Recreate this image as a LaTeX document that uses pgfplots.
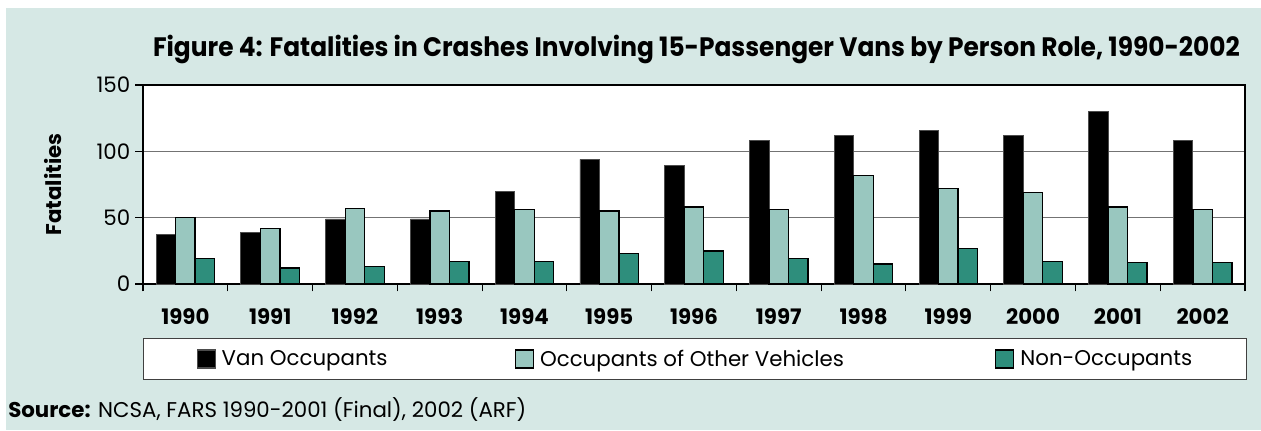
\documentclass[border=0pt]{standalone}
\usepackage{fontspec}
\setmainfont{Poppins}
\usepackage{graphicx}
\usepackage{pgfplots}
\pgfplotsset{compat=1.18}
\definecolor{bgc}{RGB}{214,232,229}
\definecolor{lightc}{RGB}{153,199,191}
\definecolor{tealc}{RGB}{46,142,124}
\begin{document}
\begin{tikzpicture}
\fill[white] (-107.25pt,-109.5pt) rectangle (838.5pt,213pt);
\fill[bgc] (-102.75pt,-109.5pt) rectangle (838.5pt,207pt);
\useasboundingbox (-107.25pt,-109.5pt) rectangle (838.5pt,213pt);
\begin{axis}[
  at={(0,0)}, anchor=south west,
  scale only axis, width=826.5pt, height=149.25pt,
  xmin=-0.5, xmax=12.5, ymin=0, ymax=150,
  ybar=0pt, bar width=0.23,
  axis background/.style={fill=white},
  xtick={0,...,12},
  xticklabels={1990,1991,1992,1993,1994,1995,1996,1997,1998,1999,2000,2001,2002},
  major x tick style={draw=none},
  minor xtick={-0.5,0.5,...,12.5},
  ytick={0,50,100,150},
  tick align=outside,
  xtick pos=bottom, ytick pos=left,
  major tick length=6pt, minor tick length=5.5pt,
  tick style={black, line width=0.8pt},
  ymajorgrids, grid style={black!55, line width=0.9pt},
  axis line style={line width=1.3pt},
  tick label style={font=\fontsize{16}{18}\selectfont},
  xticklabel style={font=\bfseries\fontsize{16}{18}\selectfont, yshift=-9pt},
  /pgf/number format/assume math mode=true,
  ylabel={Fatalities},
  ylabel style={font=\bfseries\fontsize{16}{18}\selectfont, at={(axis description cs:-0.0817,0.5)}, anchor=center},
  title={\resizebox{815pt}{\height}{Figure 4: Fatalities in Crashes Involving 15-Passenger Vans by Person Role, 1990-2002}},
  title style={font=\bfseries\fontsize{20}{24}\selectfont, at={(axis description cs:0.5022,1.1055)}, anchor=base},
  legend columns=3,
  legend style={at={(axis description cs:0,-0.2714)}, anchor=north west, draw=black!75, line width=0.9pt, fill=white, inner xsep=39.75pt, inner ysep=8pt, column sep=0pt, nodes={inner sep=0pt}, font=\fontsize{16}{18}\selectfont},
  legend image code/.code={\draw[#1, line width=1pt] (0pt,-6.75pt) rectangle (13.5pt,6.75pt); \path (18pt,0pt);},
]
\addplot[fill=black, draw=black!70, line width=0.7pt] coordinates {(0,37) (1,39) (2,49) (3,49) (4,70) (5,94) (6,89) (7,108) (8,112) (9,116) (10,112) (11,130) (12,108)};
\addplot[fill=lightc, draw=black, line width=1pt] coordinates {(0,50) (1,42) (2,57) (3,55) (4,56) (5,55) (6,58) (7,56) (8,82) (9,72) (10,69) (11,58) (12,56)};
\addplot[fill=tealc, draw=black, line width=1pt] coordinates {(0,19) (1,12) (2,13) (3,17) (4,17) (5,23) (6,25) (7,19) (8,15) (9,27) (10,17) (11,16) (12,16)};
\addlegendentry{\makebox[219.75pt][l]{Van Occupants}}
\addlegendentry{\makebox[341.25pt][l]{Occupants of Other Vehicles}}
\addlegendentry{\makebox[130pt][l]{Non-Occupants}}
\end{axis}
\node[anchor=base west, font=\fontsize{16}{18}\selectfont, inner sep=0pt] at (-101.25pt,-99.75pt) {\textbf{Source:} NCSA, FARS 1990-2001 (Final), 2002 (ARF)};
\end{tikzpicture}
\end{document}
